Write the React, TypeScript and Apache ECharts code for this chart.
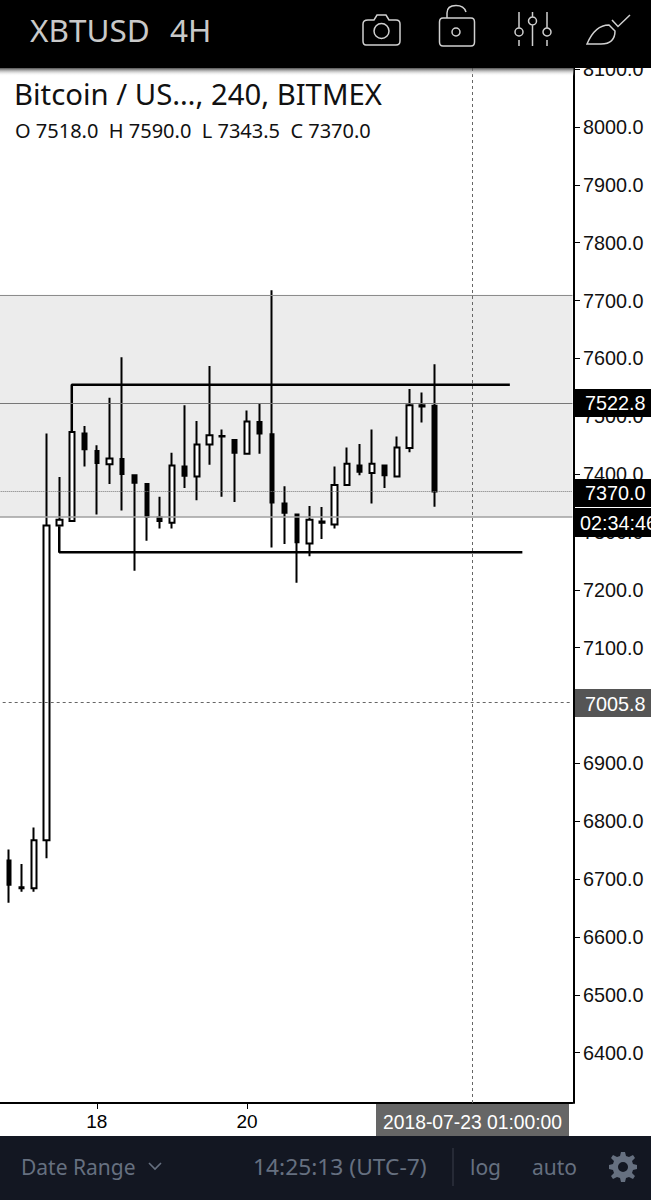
import React, { useEffect, useRef } from "react";
import * as echarts from "echarts";

const categories = [
  "07-16 17", "07-16 21",
  "07-17 01", "07-17 05", "07-17 09", "07-17 13", "07-17 17", "07-17 21",
  "07-18 01", "07-18 05", "07-18 09", "07-18 13", "07-18 17", "07-18 21",
  "07-19 01", "07-19 05", "07-19 09", "07-19 13", "07-19 17", "07-19 21",
  "07-20 01", "07-20 05", "07-20 09", "07-20 13", "07-20 17", "07-20 21",
  "07-21 01", "07-21 05", "07-21 09", "07-21 13", "07-21 17", "07-21 21",
  "07-22 01", "07-22 05", "07-22 09", "07-22 13", "07-22 17", "07-22 21",
  "07-23 01", "07-23 05", "07-23 09", "07-23 13", "07-23 17", "07-23 21",
  "07-24 01", "07-24 05", "07-24 09",
];
const dayTicks: Record<string, string> = { "07-18 01": "18", "07-20 01": "20" };
const priceTicks = [6400, 6500, 6600, 6700, 6800, 6900, 7000, 7100, 7200, 7300, 7400, 7500, 7600, 7700, 7800, 7900, 8000, 8100];

// one entry per candle, starting at categories[1]
const opens = [6732, 6686, 6684, 6767, 7311, 7319, 7470, 7440, 7417, 7426, 7398, 7383, 7325, 7316, 7413, 7396, 7451, 7465, 7459, 7435, 7490, 7469, 7349, 7330, 7280, 7316, 7313, 7381, 7415, 7402, 7415, 7396, 7445, 7517, 7518];
const closes = [6690, 6684, 6767, 7311, 7321, 7473, 7443, 7419, 7427, 7400, 7385, 7326, 7319, 7415, 7397, 7451, 7467, 7466, 7437, 7491, 7470, 7351, 7333, 7282, 7321, 7318, 7381, 7418, 7404, 7418, 7398, 7446, 7519, 7519, 7370];
const lows = [6659, 6678, 6678, 6736, 7310, 7319, 7413, 7330, 7383, 7337, 7233, 7285, 7306, 7306, 7376, 7355, 7416, 7361, 7352, 7435, 7435, 7273, 7279, 7212, 7258, 7288, 7306, 7381, 7398, 7349, 7376, 7395, 7438, 7489, 7343.5];
const highs = [6751, 6726, 6789, 7470, 7395, 7473, 7483, 7450, 7532, 7602, 7398, 7383, 7361, 7437, 7519, 7492, 7587, 7477, 7459, 7510, 7522, 7718, 7379, 7330, 7345, 7343, 7413, 7446, 7452, 7477, 7415, 7465, 7547, 7541, 7590];

const bandTop = 7710;
const bandBottom = 7326;
const levelLast = 7522.8;
const levelClose = 7370;
const crossPrice = 7005.8;
const crossTime = "07-23 01";
const upperTrend: [string, number][] = [["07-17 17", 7473], ["07-17 17", 7554.5], ["07-23 13", 7554.5]];
const lowerTrend: [string, number][] = [["07-17 13", 7310], ["07-17 13", 7265], ["07-23 17", 7265]];

const blank = ["-", "-", "-", "-"];
const rows = opens.map((o, i) => [o, closes[i], lows[i], highs[i]]);
const upData = [blank, ...rows.map((r) => (r[1] >= r[0] ? r : blank))];
const downData = [blank, ...rows.map((r) => (r[1] < r[0] ? r : blank))];

const icons = {
  camera: "M6 6 L12 6 L15 1 L24 1 L27 6 L34 6 Q38 6 38 10 L38 27 Q38 31 34 31 L4 31 Q1 31 1 27 L1 10 Q1 6 6 6 Z M19.5 9.5 A7.5 7.5 0 1 0 19.51 24.5 A7.5 7.5 0 1 0 19.5 9.5 Z",
  lock: "M4 13 L32 13 Q35.5 13 35.5 17 L35.5 37 Q35.5 41 32 41 L4 41 Q0.5 41 0.5 37 L0.5 17 Q0.5 13 4 13 Z M8 13 L8 8 Q8 0.5 17 0.5 Q25 0.5 27 7 M17 23 A4 4 0 1 0 17.01 31 A4 4 0 1 0 17 23 Z",
  sliders: "M4 0 L4 16 M4 16 A4 4 0 1 0 4.01 24 A4 4 0 1 0 4 16 M4 28 L4 34 M17.5 0 L17.5 5 M17.5 5 A4 4 0 1 0 17.51 13 A4 4 0 1 0 17.5 5 M17.5 13 L17.5 34 M32 0 L32 16 M32 16 A4 4 0 1 0 32.01 24 A4 4 0 1 0 32 16 M32 28 L32 34",
  brush: "M0 29 Q8 10 22 10 L28 16 Q28 29 14 29 Z M25 5 L31 11.5 L43 0",
  gear: "M12 0 L16 0 L17 4 L20 5 L24 3 L26 6 L23 9 L24 12 L28 13 L28 17 L24 18 L23 21 L26 24 L24 27 L20 25 L17 26 L16 30 L12 30 L11 26 L8 25 L4 27 L2 24 L5 21 L4 18 L0 17 L0 13 L4 12 L5 9 L2 6 L4 3 L8 5 L11 4 Z M14 10 A5 5 0 1 0 14.01 20 A5 5 0 1 0 14 10 Z",
};
Object.entries(icons).forEach(([name, d]) => {
  echarts.graphic.registerShape("icon-" + name, echarts.graphic.extendPath(d as any, {}) as any);
});

const axisFont = "Liberation Sans";
const uiFont = "Noto Sans";

const label = (text: string, x: number, y: number, size: number, fill: string, font: string, scaleX = 1) => ({
  type: "text",
  x,
  y,
  scaleX,
  z: 100,
  style: { text, fill, fontSize: size, fontFamily: font, textVerticalAlign: "middle", textAlign: "left" },
});
const box = (x: number, y: number, width: number, height: number, fill: any, z = 99) => ({
  type: "rect",
  z,
  shape: { x, y, width, height },
  style: { fill },
});
const icon = (name: string, x: number, y: number, stroke: string, extra: any = {}) => ({
  type: "icon-" + name,
  x,
  y,
  z: 100,
  style: { stroke, fill: "none", lineWidth: 1.5, ...extra },
});

export default function App() {
  const ref = useRef<HTMLDivElement>(null);
  useEffect(() => {
    document.body.style.margin = "0";
    const chart = echarts.init(ref.current!, undefined, { renderer: "svg" });
    const candleCommon = {
      type: "candlestick",
      itemStyle: { color: "#fff", color0: "#000", borderColor: "#000", borderColor0: "#000", borderWidth: 2 },
      silent: true,
    };
    chart.setOption({
      animation: false,
      backgroundColor: "#fff",
      grid: { left: -3.32, width: 575.74, top: 68, height: 1035, outerBoundsMode: "none" },
      xAxis: {
        type: "category",
        data: categories,
        boundaryGap: false,
        axisLine: { lineStyle: { color: "#000", width: 2 } },
        axisTick: { length: 6, lineStyle: { color: "#000", width: 1 }, interval: (_: number, v: string) => !!dayTicks[v] },
        axisLabel: {
          interval: (_: number, v: string) => !!dayTicks[v],
          formatter: (v: string) => dayTicks[v] ?? "",
          color: "#000",
          fontFamily: axisFont,
          fontSize: 19,
          margin: 9,
        },
        splitLine: { show: false },
      },
      yAxis: {
        type: "value",
        position: "right",
        offset: 1.6,
        min: 6312.9,
        max: 8102,
        axisLine: { show: true, lineStyle: { color: "#000", width: 2 } },
        axisTick: { show: true, length: 6, customValues: priceTicks, lineStyle: { color: "#000", width: 1 } },
        axisLabel: {
          customValues: priceTicks,
          formatter: (v: number) => v.toFixed(1),
          color: "#111",
          fontFamily: axisFont,
          fontSize: 19.8,
          margin: 9,
        },
        splitLine: { show: false },
      },
      series: [
        {
          type: "line",
          data: [],
          silent: true,
          markArea: {
            silent: true,
            itemStyle: { color: "#ececec" },
            data: [[{ yAxis: bandTop }, { yAxis: bandBottom }]],
          },
          markLine: {
            silent: true,
            symbol: "none",
            label: { show: false },
            data: [
              { yAxis: bandTop, lineStyle: { color: "#8c8c8c", width: 1, type: "solid" } },
              { yAxis: levelLast, lineStyle: { color: "#777", width: 1, type: "solid" } },
              { yAxis: bandBottom, lineStyle: { color: "#a0a0a0", width: 1.5, type: "solid" } },
              { yAxis: levelClose, lineStyle: { color: "#777", width: 1, type: "dotted" } },
              { yAxis: crossPrice, lineStyle: { color: "#666", width: 1, type: [3, 3] } },
              { xAxis: crossTime, lineStyle: { color: "#666", width: 1, type: [3, 3] } },
            ],
          },
        },
        { ...candleCommon, name: "up", data: upData, barWidth: 6 },
        { ...candleCommon, name: "down", data: downData, barWidth: 4 },
        { type: "line", data: upperTrend, symbol: "none", silent: true, lineStyle: { color: "#000", width: 2.5 } },
        { type: "line", data: lowerTrend, symbol: "none", silent: true, lineStyle: { color: "#000", width: 2.5 } },
      ],
      graphic: [
        box(0, 0, 651, 68, "#000"),
        box(0, 68, 574, 8, new echarts.graphic.LinearGradient(0, 0, 0, 1, [
          { offset: 0, color: "rgba(50,50,50,0.85)" },
          { offset: 1, color: "rgba(255,255,255,0)" },
        ]), 98),
        label("XBTUSD", 30, 30, 30, "#c9c9c9", uiFont, 1.05),
        label("4H", 170, 30, 30, "#c9c9c9", uiFont, 1.05),
        icon("camera", 362, 14, "#d0d0d0"),
        icon("lock", 439, 5, "#d0d0d0"),
        icon("sliders", 515, 12, "#d0d0d0"),
        icon("brush", 587, 15, "#d0d0d0"),
        label("Bitcoin / US…, 240, BITMEX", 14, 94, 29.3, "#111", uiFont),
        label("O 7518.0  H 7590.0  L 7343.5  C 7370.0", 15, 130.5, 20, "#111", uiFont),

        box(575, 389, 76, 28, "#000"),
        label("7522.8", 585, 403, 19.8, "#fff", axisFont),
        box(575, 479, 76, 28, "#000"),
        label("7370.0", 585, 493, 19.8, "#fff", axisFont),
        box(575, 508, 76, 29, "#000"),
        label("02:34:46", 580, 523, 19.8, "#fff", axisFont),
        box(575, 689, 76, 28, "#555"),
        label("7005.8", 585, 704, 19.8, "#fff", axisFont),
        box(376, 1104, 193, 32, "#666"),
        label("2018-07-23 01:00:00", 383, 1122, 19.3, "#fff", axisFont),

        box(0, 1136, 651, 64, "#131722"),
        label("Date Range", 21, 1167, 21, "#667080", uiFont),
        { type: "polyline", z: 100, shape: { points: [[149, 1163], [155, 1169], [161, 1163]] }, style: { stroke: "#667080", lineWidth: 1.6, fill: "none" } },
        label("14:25:13 (UTC-7)", 253, 1167, 21, "#667080", uiFont, 1.085),
        { type: "line", z: 100, shape: { x1: 453, y1: 1148, x2: 453, y2: 1186 }, style: { stroke: "#3a3f4a", lineWidth: 1 } },
        label("log", 470, 1167, 21, "#667080", uiFont),
        label("auto", 532, 1167, 21, "#667080", uiFont),
        icon("gear", 609, 1152, "#667080", { fill: "#667080", lineWidth: 0 }),
      ],
    });
    return () => chart.dispose();
  }, []);
  return <div ref={ref} style={{ position: "absolute", left: 0, top: 0, width: 651, height: 1200 }} />;
}
